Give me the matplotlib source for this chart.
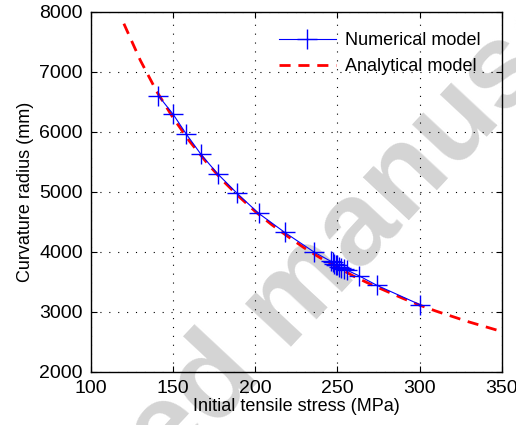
import math

import matplotlib

matplotlib.use("Agg")
import matplotlib.pyplot as plt  # noqa: E402

# numerical model
num_stress = [141, 150, 158, 167, 177, 189, 202, 218, 236,
              246, 247, 248, 249, 250, 251, 252, 254, 256,
              263, 274, 300]
num_radius = [6600, 6290, 5960, 5620, 5300, 4970, 4640, 4320, 3990,
              3840, 3820, 3800, 3780, 3770, 3750, 3730, 3710, 3690,
              3600, 3440, 3120]

# analytical model
ana_stress = [120, 130, 140, 150, 160, 170, 180, 190, 200, 210, 220, 230,
              240, 250, 260, 270, 280, 290, 300, 310, 320, 330, 340, 350]
ana_radius = [7800, 7190, 6670, 6230, 5840, 5500, 5190, 4920, 4670, 4450,
              4250, 4060, 3890, 3740, 3590, 3460, 3340, 3220, 3110, 3010,
              2920, 2830, 2750, 2670]

plt.rcParams["font.family"] = ["Liberation Sans", "DejaVu Sans"]
plt.rcParams["font.size"] = 13

W, H = 516, 425
fig = plt.figure(figsize=(W / 100, H / 100), dpi=100)
ax = fig.add_axes([0.1764, 0.1254, 0.7959, 0.8471])
ax.set_facecolor("none")

# watermark: put the start of "manuscript" at a fixed pixel spot
wm_text = "Accepted manuscript"
wm_kw = dict(fontsize=86, fontweight="bold")
wm_angle = 47
renderer = fig.canvas.get_renderer()
t_all = fig.text(0, 0, wm_text, **wm_kw)
t_end = fig.text(0, 0, "manuscript", **wm_kw)
prefix_w = (t_all.get_window_extent(renderer).width
            - t_end.get_window_extent(renderer).width)
t_all.remove()
t_end.remove()
m_x, m_y = 286, H - 352   # where the "m" begins, pixels from bottom-left
a = math.radians(wm_angle)
px = m_x - prefix_w * math.cos(a)
py = m_y - prefix_w * math.sin(a)
fig.text(px / W, py / H, wm_text, rotation=wm_angle, rotation_mode="anchor",
         ha="left", va="baseline", color="#d4d4d4", zorder=-1, **wm_kw)

ax.plot(num_stress, num_radius, color="blue", linewidth=0.8, marker="+",
        markersize=14, markeredgewidth=1.0, label="Numerical model", zorder=3)
ax.plot(ana_stress, ana_radius, color="red", linewidth=2.0,
        dashes=(4, 2.8), label="Analytical model", zorder=2)

ax.set_xlim(100, 350)
ax.set_ylim(2000, 8000)
ax.set_xticks([100, 150, 200, 250, 300, 350])
ax.set_yticks([2000, 3000, 4000, 5000, 6000, 7000, 8000])
ax.tick_params(direction="in", length=4, top=True, right=True, labelsize=14)
ax.tick_params(axis="x", pad=6)
ax.tick_params(axis="y", pad=6)
ax.grid(True, color="black", linestyle=(0, (1, 7)), linewidth=0.8)
for sp in ax.spines.values():
    sp.set_linewidth(1.0)

ax.set_xlabel("Initial tensile stress (MPa)", labelpad=1)
ax.set_ylabel("Curvature radius (mm)", labelpad=4)

ax.legend(loc="upper right", frameon=False, handlelength=3.2,
          handletextpad=0.5, borderaxespad=0.75, labelspacing=0.5)

fig.savefig("out.png", dpi=100)
